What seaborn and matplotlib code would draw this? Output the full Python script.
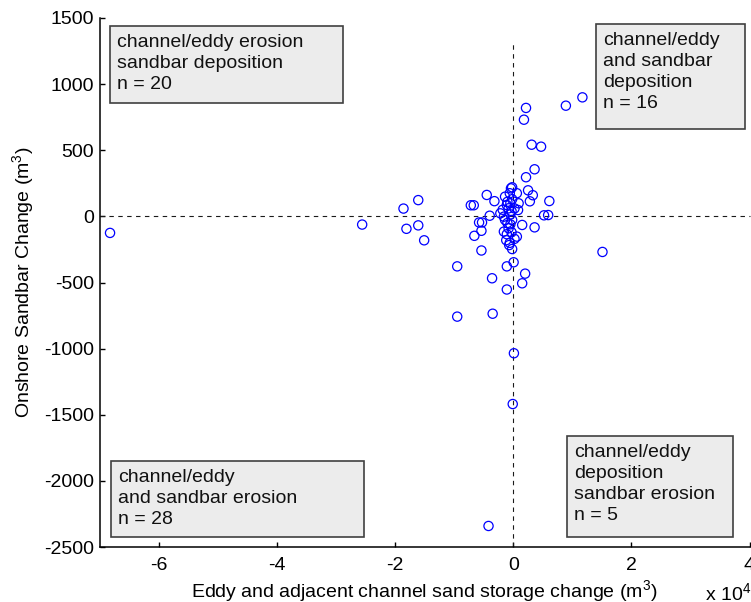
import matplotlib
matplotlib.use("Agg")
import matplotlib.pyplot as plt
import numpy as np
import pandas as pd
import seaborn as sns
from matplotlib.patches import Rectangle
from matplotlib.ticker import FuncFormatter

# ---- data (x in m^3, y in m^3) ----
channel_change = [
    # channel/eddy deposition, sandbar deposition
    11700, 8900, 2150, 1800, 3100, 4700, 3600, 2150, 2500, 3300, 2800, 6100,
    5200, 5900, 900, 800, 600, 200,
    # channel/eddy deposition, sandbar erosion
    3600, 15100, 2000, 1500, 100, 1500, 600, 50, 200,
    # channel/eddy erosion, sandbar deposition
    -4000, -7200, -6700, -4500, -3200, -16100, -18600, -400, -200, -600,
    -1400, -1100, -800, -2200, -200, -1000, -300, -1800, -500, -500,
    # channel/eddy and sandbar erosion
    -68300, -25600, -15100, -16100, -18100, -9500, -5400, -6600, -5400,
    -5800, -5300, -1100, -3600, -1100, -700, -200, -9500, -3500, -100,
    -4200, -1600, -1400, -200, -1600, -1100, -500, -800, -1200, -1000,
    -300, -600,
]
sandbar_change = [
    900, 837, 820, 731, 542, 527, 356, 296, 197, 160, 114, 116,
    8, 10, 99, 48, 175, 60,
    -83, -269, -433, -506, -1035, -65, -153, -347, -170,
    5, 84, 84, 162, 115, 123, 59, 212, 220, 175,
    149, 86, 61, 23, 130, 110, 40, 50, 15, 100,
    -125, -62, -181, -68, -94, -378, -258, -147, -109,
    -46, -46, -553, -468, -378, -217, -247, -758, -736, -1419,
    -2341, -2, -27, -27, -115, -135, -60, -90, -180, -50,
    -120, -200,
]

quadrant_labels = [
    "channel/eddy erosion\nsandbar deposition\nn = 20",
    "channel/eddy\nand sandbar\ndeposition\nn = 16",
    "channel/eddy\nand sandbar erosion\nn = 28",
    "channel/eddy\ndeposition\nsandbar erosion\nn = 5",
]

x_ticks = [-6, -4, -2, 0, 2, 4]
y_ticks = [-2500, -2000, -1500, -1000, -500, 0, 500, 1000, 1500]

df = pd.DataFrame({"x": channel_change, "y": sandbar_change})

sns.set_theme(style="white")
plt.rcParams['font.family'] = ['Liberation Sans', 'DejaVu Sans']
plt.rcParams['mathtext.fontset'] = 'custom'
plt.rcParams['mathtext.rm'] = 'Liberation Sans'
plt.rcParams['mathtext.it'] = 'Liberation Sans:italic'
plt.rcParams['mathtext.bf'] = 'Liberation Sans:bold'

FS = 14
fig = plt.figure(figsize=(7.51, 6.02), dpi=100)
L, B, R, T = 100, 547, 749.5, 18  # axes in pixels
W, H = 751, 602
ax = fig.add_axes([L / W, 1 - B / H, (R - L) / W, (B - T) / H])

ax.set_xlim(-70000, 40000)
ax.set_ylim(-2500, 1500)

# zero reference lines
ax.plot([0, 0], [-2500, 1300], color='k', lw=0.8, ls=(0, (4, 4)), zorder=1)
ax.plot([-70000, 40000], [0, 0], color='k', lw=0.8, ls=(0, (4, 4)), zorder=1,
        clip_on=False)

sns.scatterplot(data=df, x="x", y="y", ax=ax, marker='o', s=44,
                color='blue', facecolor='none', edgecolor='blue',
                linewidth=0.9, zorder=2, legend=False)

ax.set_xticks([v * 1e4 for v in x_ticks])
ax.xaxis.set_major_formatter(FuncFormatter(lambda v, p: f"{v/1e4:g}"))
ax.set_yticks(y_ticks)
ax.yaxis.set_major_formatter(FuncFormatter(lambda v, p: f"{v:g}"))

for s in ['top', 'right']:
    ax.spines[s].set_visible(False)
for s in ['left', 'bottom']:
    ax.spines[s].set_color('black')
    ax.spines[s].set_linewidth(1.1)

ax.tick_params(axis='both', direction='in', length=3.6, width=1.0,
               color='black', labelsize=FS, labelcolor='black')
ax.tick_params(axis='x', pad=7, bottom=True, top=False)
ax.tick_params(axis='y', pad=4.3, left=True, right=False)

ax.set_xlabel("Eddy and adjacent channel sand storage change (m$^3$)",
              fontsize=FS, color='black', labelpad=3.5)
ax.set_ylabel("Onshore Sandbar Change (m$^3$)", fontsize=FS, color='black',
              labelpad=6)

fig.text(705 / W, 1 - 593 / H, "x 10$^4$", fontsize=FS, ha='left',
         va='center', color='black')

# quadrant boxes (pixel layout -> axes fraction)
def fx(px):
    return (px - L) / (R - L)

def fy(py):
    return (B - py) / (B - T)

boxes = [(110, 26, 343, 103), (596, 24, 745, 129),
         (111, 461, 364, 537), (567, 436, 733, 537)]
for (x0, y0, x1, y1), lab in zip(boxes, quadrant_labels):
    ax.add_patch(Rectangle((fx(x0), fy(y1)), fx(x1) - fx(x0), fy(y0) - fy(y1),
                           transform=ax.transAxes, facecolor='#ececec',
                           edgecolor='#404040', lw=1.2, zorder=3,
                           clip_on=False))
    ax.text(fx(x0 + 7), fy(y0 + 8), lab, transform=ax.transAxes,
            ha='left', va='top', fontsize=FS, color='#111111',
            linespacing=1.32, zorder=4)

fig.savefig("out.png", dpi=100)
